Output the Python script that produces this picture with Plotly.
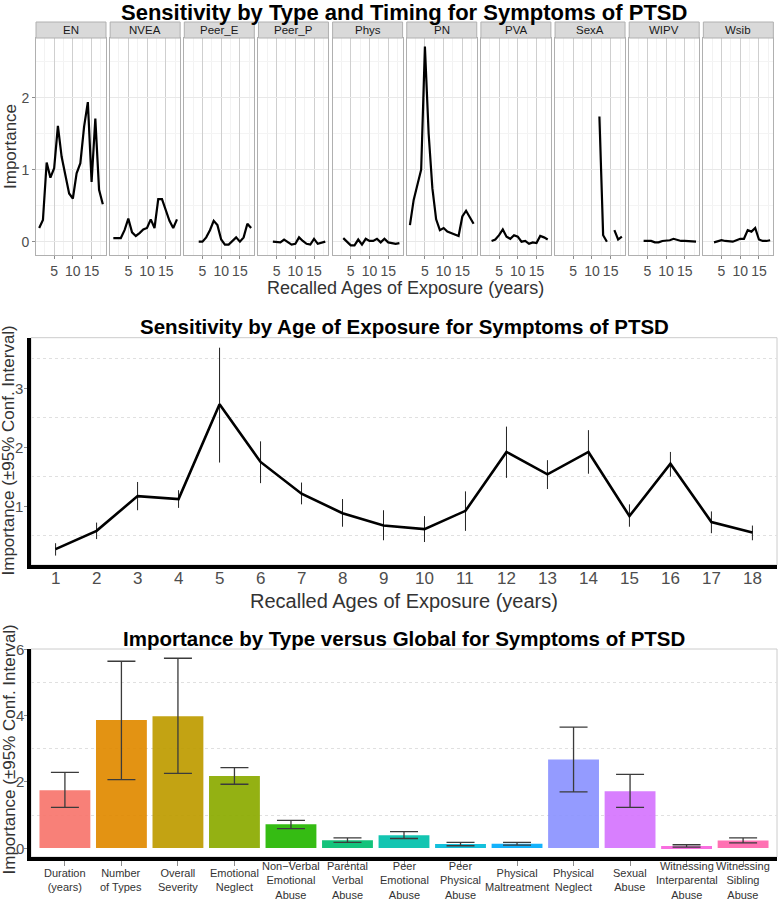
import plotly.graph_objects as go

# ------------------------------------ Data ------------------------------------

ages = list(range(1, 19))

# Top panel: importance by type and age (facets)
facet_names = ['EN', 'NVEA', 'Peer_E', 'Peer_P', 'Phys', 'PN', 'PVA', 'SexA', 'WIPV', 'Wsib']
en = [0.19, 0.30, 1.10, 0.89, 1.02, 1.61, 1.18, 0.90, 0.67, 0.60, 0.95, 1.09, 1.60, 1.94, 0.83, 1.71, 0.72, 0.52]
nvea = [0.05, 0.05, 0.05, 0.16, 0.32, 0.13, 0.08, 0.12, 0.17, 0.19, 0.31, 0.19, 0.59, 0.59, 0.44, 0.29, 0.19, 0.31]
peer_e = [None, None, None, 0.0, 0.0, 0.06, 0.16, 0.29, 0.23, 0.03, -0.04, -0.04, 0.01, 0.06, 0.0, 0.06, 0.25, 0.19]
peer_p = [None, None, None, 0.0, 0.0, -0.01, 0.03, -0.01, -0.04, -0.03, 0.06, 0.01, -0.03, -0.04, 0.04, -0.03, -0.01, 0.0]
phys = [None, None, 0.05, 0.0, -0.05, -0.05, 0.03, -0.04, 0.04, 0.01, 0.01, 0.04, -0.01, 0.04, -0.01, -0.02, -0.03, -0.02]
pn = [0.23, 0.58, 0.79, 1.00, 2.71, 1.50, 0.74, 0.31, 0.16, 0.19, 0.14, 0.12, 0.09, 0.08, 0.35, 0.43, 0.34, 0.25]
pva = [None, None, 0.01, 0.03, 0.09, 0.17, 0.07, 0.04, 0.09, 0.07, 0.0, 0.01, -0.03, -0.01, -0.02, 0.08, 0.06, 0.03]
sexa = [None, None, None, None, None, None, None, None, None, None, None, 1.74, 0.09, 0.0, None, 0.16, 0.03, 0.07]
wipv = [None, None, None, 0.01, 0.01, 0.01, -0.01, -0.01, 0.01, 0.01, 0.02, 0.04, 0.02, 0.01, 0.01, 0.01, 0.0, 0.0]
wsib = [None, None, -0.01, 0.0, 0.02, 0.01, 0.0, 0.0, 0.02, 0.04, 0.04, 0.16, 0.14, 0.19, 0.03, 0.01, 0.01, 0.02]
facet_values = [en, nvea, peer_e, peer_p, phys, pn, pva, sexa, wipv, wsib]

# Middle panel: sensitivity by age with 95% CI
age_mean = [0.27, 0.58, 1.17, 1.12, 2.73, 1.75, 1.21, 0.88, 0.67, 0.61, 0.92, 1.92, 1.54, 1.92, 0.83, 1.72, 0.73, 0.55]
age_hi = [0.37, 0.72, 1.41, 1.27, 3.69, 2.10, 1.40, 1.12, 0.93, 0.83, 1.25, 2.35, 1.78, 2.29, 1.03, 1.92, 0.91, 0.67]
age_lo = [0.16, 0.44, 0.93, 0.97, 1.74, 1.39, 1.03, 0.65, 0.42, 0.39, 0.58, 1.48, 1.29, 1.55, 0.65, 1.50, 0.54, 0.42]
age_yticks = [1, 2, 3]

# Bottom panel: importance by type vs global
type_labels = ['Duration<br>(years)', 'Number<br>of Types', 'Overall<br>Severity', 'Emotional<br>Neglect',
               'Non\u2212Verbal<br>Emotional<br>Abuse', 'Parental<br>Verbal<br>Abuse', 'Peer<br>Emotional<br>Abuse',
               'Peer<br>Physical<br>Abuse', 'Physical<br>Maltreatment', 'Physical<br>Neglect', 'Sexual<br>Abuse',
               'Witnessing<br>Interparental<br>Abuse', 'Witnessing<br>Sibling<br>Abuse']
type_imp = [1.75, 3.87, 3.99, 2.18, 0.72, 0.24, 0.39, 0.12, 0.13, 2.68, 1.72, 0.06, 0.23]
type_hi = [2.29, 5.65, 5.74, 2.43, 0.84, 0.31, 0.50, 0.17, 0.17, 3.66, 2.23, 0.10, 0.31]
type_lo = [1.23, 2.07, 2.26, 1.93, 0.59, 0.17, 0.29, 0.07, 0.09, 1.70, 1.23, 0.03, 0.16]
type_colors = ['#F8766D', '#E18A00', '#BE9C00', '#8CAB00', '#24B700', '#00BE70', '#00C1AB',
               '#00BBDA', '#00ACFC', '#8B93FF', '#D575FE', '#F962DD', '#FF65AC']
type_yticks = [0, 2, 4, 6]

# ------------------------------------ Layout helpers ------------------------------------

W, H = 778, 900
FONT = 'Liberation Sans, Arial, Helvetica, sans-serif'


def px(x):
    return x / W


def py(y):
    return 1 - y / H


fig = go.Figure()
layout = dict(width=W, height=H, margin=dict(l=0, r=0, t=0, b=0), plot_bgcolor='white',
              paper_bgcolor='white', font=dict(family=FONT, color='#4D4D4D'), showlegend=False)
shapes = []
annotations = []

# ------------------------------------ Top facets ------------------------------------

facet_left, facet_w, facet_step = 36, 70, 74.15
facet_top, facet_bottom, strip_top = 38, 255, 22

for i, (name, vals) in enumerate(zip(facet_names, facet_values)):
    n = i + 1
    x0 = facet_left + i * facet_step
    x1 = x0 + facet_w
    fig.add_trace(go.Scatter(x=ages, y=vals, mode='lines', line=dict(color='black', width=2.2),
                             connectgaps=False, xaxis='x%d' % n, yaxis='y%d' % n, hoverinfo='skip'))
    layout['xaxis%d' % n] = dict(domain=[px(x0), px(x1)], anchor='y%d' % n, range=[0.15, 18.85],
                                 tickvals=[5, 10, 15], showgrid=True, gridcolor='#CFCFCF', gridwidth=1,
                                 minor=dict(tick0=2.5, dtick=5, showgrid=True, gridcolor='#F2F2F2'),
                                 showline=True, mirror=True, linecolor='#B0B0B0', linewidth=1,
                                 ticks='outside', ticklen=3, tickcolor='#8C8C8C', zeroline=False,
                                 tickfont=dict(size=14, color='#4D4D4D'))
    layout['yaxis%d' % n] = dict(domain=[py(facet_bottom), py(facet_top)], anchor='x%d' % n,
                                 range=[-0.185, 2.83], tickvals=[0, 1, 2], showgrid=True, gridcolor='#E8E8E8',
                                 minor=dict(tick0=0.5, dtick=1, showgrid=True, gridcolor='#F4F4F4'),
                                 showline=True, mirror=True, linecolor='#B0B0B0', linewidth=1, zeroline=False,
                                 showticklabels=(i == 0), ticks='outside' if i == 0 else '', ticklen=3,
                                 tickcolor='#8C8C8C', tickfont=dict(size=14, color='#4D4D4D'))
    # Strip header
    shapes.append(dict(type='rect', xref='paper', yref='paper', x0=px(x0), x1=px(x1),
                       y0=py(facet_top), y1=py(strip_top), fillcolor='#D9D9D9',
                       line=dict(color='#B0B0B0', width=1), layer='above'))
    annotations.append(dict(text=name, xref='paper', yref='paper', x=px((x0 + x1) / 2),
                            y=py((facet_top + strip_top) / 2), showarrow=False,
                            font=dict(size=11.5, color='#1A1A1A'), xanchor='center', yanchor='middle'))

annotations.append(dict(text='<b>Sensitivity by Type and Timing for Symptoms of PTSD</b>', xref='paper',
                        yref='paper', x=px(404), y=py(12.5), showarrow=False, xanchor='center', yanchor='middle',
                        font=dict(size=22, color='black')))
annotations.append(dict(text='Recalled Ages of Exposure (years)', xref='paper', yref='paper', x=px(405),
                        y=py(288), showarrow=False, xanchor='center', yanchor='middle',
                        font=dict(size=18, color='#333333')))
annotations.append(dict(text='Importance', xref='paper', yref='paper', x=px(10), y=py(147), textangle=-90,
                        showarrow=False, xanchor='center', yanchor='middle', font=dict(size=17, color='#333333')))

# ------------------------------------ Middle panel ------------------------------------

mid_top, mid_bottom = 337.7, 565
fig.add_trace(go.Scatter(x=ages, y=age_mean, mode='lines', line=dict(color='black', width=2.6),
                         error_y=dict(type='data', symmetric=False,
                                      array=[h - m for h, m in zip(age_hi, age_mean)],
                                      arrayminus=[m - l for m, l in zip(age_mean, age_lo)],
                                      width=0, thickness=1, color='#222222'),
                         xaxis='x11', yaxis='y11', hoverinfo='skip'))
layout['xaxis11'] = dict(domain=[px(31), px(777)], anchor='y11', range=[0.4, 18.6], tickvals=ages,
                         showticklabels=False, showgrid=False, zeroline=False, showline=True,
                         linecolor='black', linewidth=3.5, ticks='')
layout['yaxis11'] = dict(domain=[py(mid_bottom), py(mid_top)], anchor='x11', range=[0.0, 3.86],
                         tickvals=age_yticks, showticklabels=False, showgrid=False, zeroline=False,
                         showline=True, linecolor='black', linewidth=3.5, ticks='outside', ticklen=3,
                         tickcolor='#8C8C8C',
                         minor=dict(tick0=0.5, dtick=1, showgrid=True, gridcolor='#E0E0E0', griddash='dot'))
shapes.append(dict(type='rect', xref='paper', yref='paper', x0=px(31), x1=px(777), y0=py(mid_bottom),
                   y1=py(mid_top), line=dict(color='#CCCCCC', width=1), layer='below'))
for v in age_yticks:
    annotations.append(dict(text=str(v), xref='paper', yref='y11', x=px(25), y=v, showarrow=False,
                            xanchor='right', yanchor='middle', font=dict(size=15, color='#4D4D4D')))
for a in ages:
    annotations.append(dict(text=str(a), xref='x11', yref='paper', x=a, y=py(578), showarrow=False,
                            xanchor='center', yanchor='middle', font=dict(size=17, color='#4D4D4D')))
annotations.append(dict(text='<b>Sensitivity by Age of Exposure for Symptoms of PTSD</b>', xref='paper',
                        yref='paper', x=px(404), y=py(327), showarrow=False, xanchor='center', yanchor='middle',
                        font=dict(size=20.5, color='black')))
annotations.append(dict(text='Recalled Ages of Exposure (years)', xref='paper', yref='paper', x=px(404),
                        y=py(601), showarrow=False, xanchor='center', yanchor='middle',
                        font=dict(size=20, color='#333333')))
annotations.append(dict(text='Importance (\u00b195% Conf. Interval)', xref='paper', yref='paper', x=px(8.5),
                        y=py(451), textangle=-90, showarrow=False, xanchor='center', yanchor='middle',
                        font=dict(size=17, color='#333333')))

# ------------------------------------ Bottom panel ------------------------------------

bot_top, bot_bottom = 649, 857
fig.add_trace(go.Bar(x=type_labels, y=type_imp, width=0.9, marker=dict(color=type_colors, line=dict(width=0)),
                     opacity=0.92,
                     error_y=dict(type='data', symmetric=False,
                                  array=[h - m for h, m in zip(type_hi, type_imp)],
                                  arrayminus=[m - l for m, l in zip(type_imp, type_lo)],
                                  width=14, thickness=1.3, color='#2B2B2B'),
                     xaxis='x12', yaxis='y12', hoverinfo='skip'))
layout['xaxis12'] = dict(domain=[px(31), px(777)], anchor='y12', type='category', range=[-0.6, 12.6],
                         showticklabels=False, showgrid=False, zeroline=False, showline=True, linecolor='black',
                         linewidth=3.5, ticks='outside', ticklen=5, tickcolor='#8C8C8C')
layout['yaxis12'] = dict(domain=[py(bot_bottom), py(bot_top)], anchor='x12', range=[-0.27, 6.02],
                         tickvals=type_yticks, showticklabels=False, showgrid=False, zeroline=False,
                         showline=True, linecolor='black', linewidth=3.5, ticks='outside', ticklen=3,
                         tickcolor='#8C8C8C',
                         minor=dict(tick0=1, dtick=2, showgrid=True, gridcolor='#E0E0E0', griddash='dot'))
shapes.append(dict(type='rect', xref='paper', yref='paper', x0=px(31), x1=px(777), y0=py(bot_bottom),
                   y1=py(bot_top), line=dict(color='#CCCCCC', width=1), layer='below'))
for v in type_yticks:
    annotations.append(dict(text=str(v), xref='paper', yref='y12', x=px(26), y=v, showarrow=False,
                            xanchor='right', yanchor='middle', font=dict(size=15, color='#4D4D4D')))
for lab in type_labels:
    annotations.append(dict(text=lab, xref='x12', yref='paper', x=lab, y=py(880), showarrow=False,
                            xanchor='center', yanchor='middle', align='center',
                            font=dict(size=11, color='#333333')))
annotations.append(dict(text='<b>Importance by Type versus Global for Symptoms of PTSD</b>', xref='paper',
                        yref='paper', x=px(404), y=py(638), showarrow=False, xanchor='center', yanchor='middle',
                        font=dict(size=20.5, color='black')))
annotations.append(dict(text='Importance (\u00b195% Conf. Interval)', xref='paper', yref='paper', x=px(8.5),
                        y=py(750), textangle=-90, showarrow=False, xanchor='center', yanchor='middle',
                        font=dict(size=17, color='#333333')))

layout['shapes'] = shapes
layout['annotations'] = annotations
fig.update_layout(**layout)

# drop the default page margin so the figure sits at the window's corner
fig.write_html("out.html", config={'displayModeBar': False},
               post_script="document.body.style.margin='0';document.body.style.overflow='hidden';")
